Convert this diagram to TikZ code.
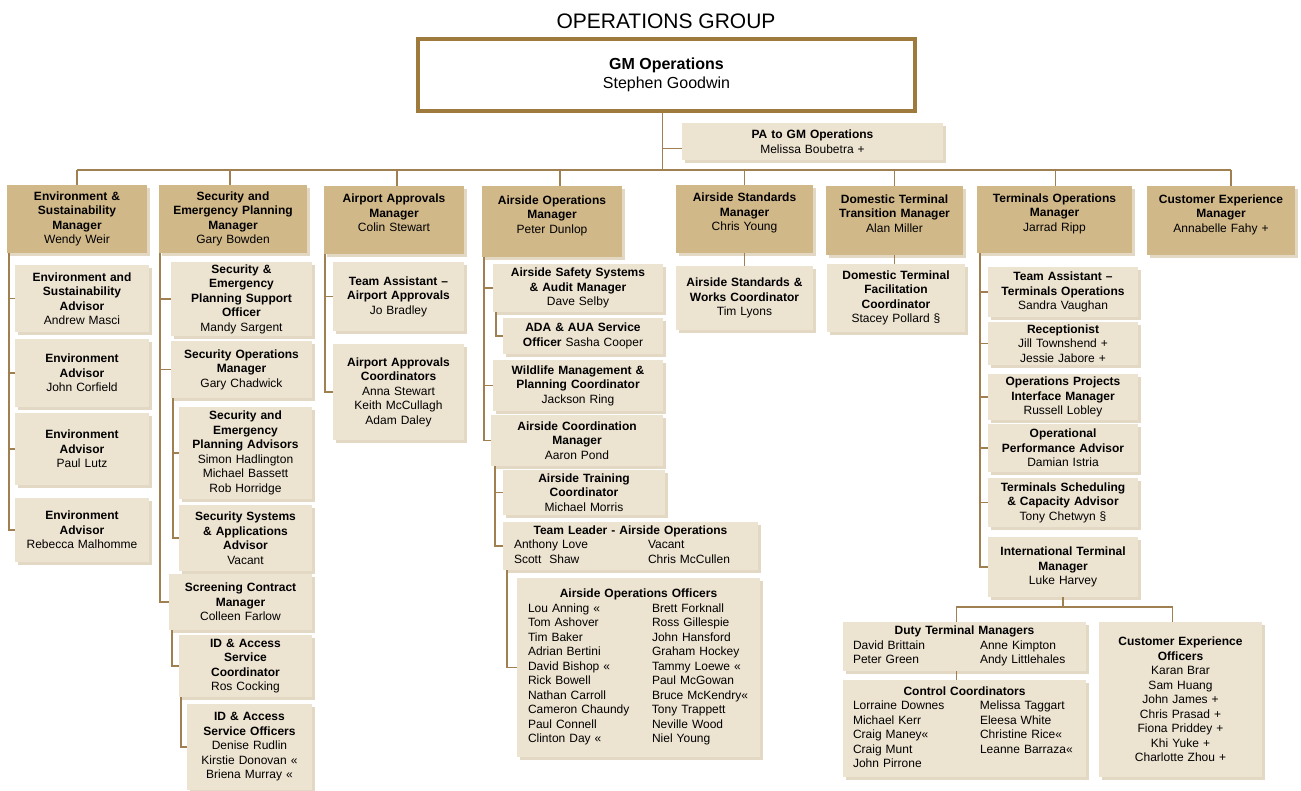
\documentclass[tikz,border=0pt]{standalone}
\usepackage{fontspec}
\setmainfont{Liberation Sans}
\usepackage{tikz}
\usetikzlibrary{shadows}
\usepackage{xcolor}
\definecolor{optan}{RGB}{209,184,137}
\definecolor{oplight}{RGB}{237,227,209}
\definecolor{opshade}{RGB}{226,216,196}
\definecolor{opline}{RGB}{160,128,80}
\definecolor{opframe}{RGB}{158,122,60}
\newcommand{\orgfont}{\fontsize{12}{14.5}\selectfont}
\tikzstyle{hdbox} = [fill=optan, font=\orgfont\bfseries, align=center, inner xsep=2pt, inner ysep=0pt,
  drop shadow={shadow xshift=3pt, shadow yshift=-3pt, fill=opshade, opacity=1}]
\tikzstyle{lbox} = [hdbox, fill=oplight]
\tikzstyle{tbox} = [lbox, font=\orgfont]
\tikzstyle{link} = [draw=opline, line width=1.5pt]

\begin{document}
\begin{tikzpicture}[x=1pt,y=-1pt]
\useasboundingbox (0,0) rectangle (1301,791);

% Head
\node[font=\fontsize{21}{25}\selectfont] (title) at (666,21) {OPERATIONS GROUP};
\node[draw=opframe, line width=4pt, fill=white, minimum width=497pt, minimum height=72pt,
  align=center, font=\fontsize{16}{19}\selectfont] (gm) at (666.5,75) {\textbf{GM Operations}\\Stephen Goodwin};
\node[lbox, text width=257pt, minimum height=37pt] (pa) at (812.5,141.5) {PA to GM Operations\\\mdseries Melissa Boubetra +};

% Managers
\node[hdbox, text width=136pt, minimum height=68pt] (esm) at (77,219) {Environment \&\\Sustainability\\Manager\\\mdseries Wendy Weir};
\node[hdbox, text width=144pt, minimum height=68pt] (sem) at (233,219) {Security and\\Emergency Planning\\Manager\\\mdseries Gary Bowden};
\node[hdbox, text width=136pt, minimum height=68pt] (aam) at (394,220) {Airport Approvals\\Manager\\\mdseries Colin Stewart\\\mbox{}};
\node[hdbox, text width=136pt, minimum height=71pt] (aom) at (552,221.5) {Airside Operations\\Manager\\\mdseries Peter Dunlop\\\mbox{}};
\node[hdbox, text width=133pt, minimum height=68pt] (asm) at (744.5,219) {Airside Standards\\Manager\\\mdseries Chris Young\\\mbox{}};
\node[hdbox, text width=133pt, minimum height=69pt] (dtm) at (894.5,220.5) {Domestic Terminal\\Transition Manager\\\mdseries Alan Miller\\\mbox{}};
\node[hdbox, text width=151pt, minimum height=67pt] (tom) at (1054.5,219.5) {Terminals Operations\\Manager\\\mdseries Jarrad Ripp\\\mbox{}};
\node[hdbox, text width=144pt, minimum height=69pt] (cem) at (1221,220.5) {Customer Experience\\Manager\\\mdseries Annabelle Fahy +\\\mbox{}};

% Environment
\node[lbox, text width=130pt, minimum height=67pt] (esa) at (82,298.5) {Environment and\\Sustainability\\Advisor\\\mdseries Andrew Masci};
\node[lbox, text width=130pt, minimum height=68pt] (eaj) at (82,373) {Environment\\Advisor\\\mdseries John Corfield};
\node[lbox, text width=130pt, minimum height=72pt] (eap) at (82,449) {Environment\\Advisor\\\mdseries Paul Lutz};
\node[lbox, text width=130pt, minimum height=64pt] (ear) at (82,530) {Environment\\Advisor\\\mdseries Rebecca Malhomme};

% Security
\node[lbox, text width=137pt, minimum height=74pt] (sso) at (241.5,299) {Security \&\\Emergency\\Planning Support\\Officer\\\mdseries Mandy Sargent};
\node[lbox, text width=137pt, minimum height=57pt] (som) at (241.5,369.5) {Security Operations\\Manager\\\mdseries Gary Chadwick};
\node[lbox, text width=129pt, minimum height=92pt] (sea) at (245.5,453) {Security and\\Emergency\\Planning Advisors\\\mdseries Simon Hadlington\\Michael Bassett\\Rob Horridge};
\node[lbox, text width=129pt, minimum height=66pt] (ssa) at (245.5,538) {Security Systems\\\& Applications\\Advisor\\\mdseries Vacant};
\node[lbox, text width=139pt, minimum height=56pt] (scm) at (240.5,602) {Screening Contract\\Manager\\\mdseries Colleen Farlow};
\node[lbox, text width=129pt, minimum height=62pt] (idc) at (245.5,666) {ID \& Access\\Service\\Coordinator\\\mdseries Ros Cocking};
\node[lbox, text width=121pt, minimum height=86pt] (ido) at (249.5,747) {ID \& Access\\Service Officers\\\mdseries Denise Rudlin\\Kirstie Donovan «\\Briena Murray «};

% Airport approvals
\node[lbox, text width=127pt, minimum height=69pt] (taa) at (398.5,296.5) {Team Assistant –\\Airport Approvals\\\mdseries Jo Bradley};
\node[lbox, text width=127pt, minimum height=96pt] (aac) at (398.5,392) {Airport Approvals\\Coordinators\\\mdseries Anna Stewart\\Keith McCullagh\\Adam Daley};

% Airside
\node[lbox, text width=166pt, minimum height=48pt] (ass) at (578,288) {Airside Safety Systems\\\& Audit Manager\\\mdseries Dave Selby};
\node[lbox, text width=156pt, minimum height=36pt] (ada) at (583,336) {ADA \& AUA Service\\Officer {\mdseries Sasha Cooper}};
\node[lbox, text width=166pt, minimum height=51pt] (wmp) at (578,385.5) {Wildlife Management \&\\Planning Coordinator\\\mdseries Jackson Ring};
\node[lbox, text width=168pt, minimum height=51pt] (acm) at (577,440.5) {Airside Coordination\\Manager\\\mdseries Aaron Pond};
\node[lbox, text width=158pt, minimum height=45pt] (atc) at (584,492.5) {Airside Training\\Coordinator\\\mdseries Michael Morris};
\node[tbox, inner xsep=11pt, text width=233pt, minimum height=48pt] (tla) at (630.5,546) {%
  \begin{tabular}{@{}p{134pt}@{}p{99pt}@{}}
  \multicolumn{2}{c}{\bfseries Team Leader - Airside Operations}\\
  Anthony Love & Vacant\\
  Scott\ \ Shaw & Chris McCullen
  \end{tabular}};
\node[tbox, inner xsep=11pt, text width=221pt, minimum height=179pt] (aoo) at (638.5,667.5) {%
  \begin{tabular}{@{}p{124pt}@{}p{97pt}@{}}
  \multicolumn{2}{c}{\bfseries Airside Operations Officers}\\
  Lou Anning « & Brett Forknall\\
  Tom Ashover & Ross Gillespie\\
  Tim Baker & John Hansford\\
  Adrian Bertini & Graham Hockey\\
  David Bishop « & Tammy Loewe «\\
  Rick Bowell & Paul McGowan\\
  Nathan Carroll & Bruce McKendry«\\
  Cameron Chaundy & Tony Trappett\\
  Paul Connell & Neville Wood\\
  Clinton Day « & Niel Young
  \end{tabular}};

% Standards and domestic
\node[lbox, text width=133pt, minimum height=64pt] (asw) at (744.5,298) {Airside Standards \&\\Works Coordinator\\\mdseries Tim Lyons};
\node[lbox, text width=134pt, minimum height=68pt] (dtf) at (896,298) {Domestic Terminal\\Facilitation\\Coordinator\\\mdseries Stacey Pollard §};

% Terminals
\node[lbox, text width=146pt, minimum height=50pt] (tat) at (1063,292) {Team Assistant –\\Terminals Operations\\\mdseries Sandra Vaughan};
\node[lbox, text width=146pt, minimum height=43pt] (rec) at (1063,343.5) {Receptionist\\\mdseries Jill Townshend +\\Jessie Jabore +};
\node[lbox, text width=146pt, minimum height=46pt] (opi) at (1063,397) {Operations Projects\\Interface Manager\\\mdseries Russell Lobley};
\node[lbox, text width=146pt, minimum height=48pt] (opa) at (1063,448) {Operational\\Performance Advisor\\\mdseries Damian Istria};
\node[lbox, text width=146pt, minimum height=49pt] (tsc) at (1063,502.5) {Terminals Scheduling\\\& Capacity Advisor\\\mdseries Tony Chetwyn §};
\node[lbox, text width=146pt, minimum height=60pt] (itm) at (1063,567) {International Terminal\\Manager\\\mdseries Luke Harvey};
\node[tbox, inner xsep=10pt, text width=223pt, minimum height=49pt] (dtmg) at (964.5,646.5) {%
  \begin{tabular}{@{}p{127pt}@{}p{96pt}@{}}
  \multicolumn{2}{c}{\bfseries Duty Terminal Managers}\\
  David Brittain & Anne Kimpton\\
  Peter Green & Andy Littlehales
  \end{tabular}};
\node[tbox, inner xsep=10pt, text width=223pt, minimum height=97pt] (cco) at (964.5,728.5) {%
  \begin{tabular}{@{}p{127pt}@{}p{96pt}@{}}
  \multicolumn{2}{c}{\bfseries Control Coordinators}\\
  Lorraine Downes & Melissa Taggart\\
  Michael Kerr & Eleesa White\\
  Craig Maney« & Christine Rice«\\
  Craig Munt & Leanne Barraza«\\
  John Pirrone &
  \end{tabular}};
\node[lbox, text width=159pt, minimum height=155pt] (ceo) at (1180.5,699.5) {Customer Experience\\Officers\\\mdseries Karan Brar\\Sam Huang\\John James +\\Chris Prasad +\\Fiona Priddey +\\Khi Yuke +\\Charlotte Zhou +};

% Head connectors
\coordinate (gmdrop) at ([xshift=-4pt]gm.south);
\coordinate (bus) at (gmdrop |- 0,170);
\draw[link] (gmdrop) -- (bus);
\draw[link] ([yshift=-7pt]pa.west) -- ([yshift=-7pt]pa.west -| gmdrop);
\draw[link] (esm.north |- bus) -- ([xshift=10pt]cem.north |- bus);
\foreach \m/\dx in {esm/0,sem/-3,aam/3,aom/8,asm/0,dtm/0,tom/1,cem/10}
  \draw[link] ([xshift=\dx pt]\m.north) -- ([xshift=\dx pt]\m.north |- bus);

% Trunks and stubs
\coordinate (envt) at ([xshift=2pt]esm.south west);
\draw[link] (envt) |- (ear.west);
\foreach \c in {esa,eaj,eap}
  \draw[link] (\c.west) -- (\c.west -| envt);

\coordinate (sect) at ([xshift=1pt]sem.south west);
\draw[link] (sect) |- (scm.west);
\foreach \c in {sso,som}
  \draw[link] (\c.west) -- (\c.west -| sect);
\coordinate (somt) at ([xshift=2pt]som.south west);
\draw[link] (somt) |- (ssa.west);
\draw[link] (sea.west) -- (sea.west -| somt);
\draw[link] ([xshift=3pt]scm.south west) |- (idc.west);
\draw[link] ([xshift=2pt]idc.south west) |- (ido.west);

\coordinate (aamt) at ([xshift=1pt]aam.south west);
\draw[link] (aamt) |- (aac.west);
\draw[link] (taa.west) -- (taa.west -| aamt);

\coordinate (aomt) at ([xshift=2pt]aom.south west);
\draw[link] (aomt) |- (acm.west);
\foreach \c in {ass,wmp}
  \draw[link] (\c.west) -- (\c.west -| aomt);
\draw[link] ([xshift=3pt]ass.south west) |- (ada.west);
\coordinate (acmt) at ([xshift=4pt]acm.south west);
\draw[link] (acmt) |- (tla.west);
\draw[link] (atc.west) -- (atc.west -| acmt);
\draw[link] ([xshift=4pt]tla.south west) |- (aoo.west);

\draw[link] (asm.south) -- (asw.north);
\draw[link] (dtm.south) -- (dtm.south |- dtf.north);

\coordinate (tomt) at ([xshift=3pt]tom.south west);
\draw[link] (tomt) |- (itm.west);
\foreach \c in {tat,rec,opi,opa,tsc}
  \draw[link] (\c.west) -- (\c.west -| tomt);

% International terminal
\draw[link] (itm.south) -- ++(0,10) coordinate (itbus);
\draw[link] ([xshift=-8pt]dtmg.north) |- (itbus) -| ([xshift=-8pt]ceo.north);
\draw[link] ([xshift=-8pt]dtmg.south) -- ([xshift=-8pt]cco.north);
\end{tikzpicture}
\end{document}
